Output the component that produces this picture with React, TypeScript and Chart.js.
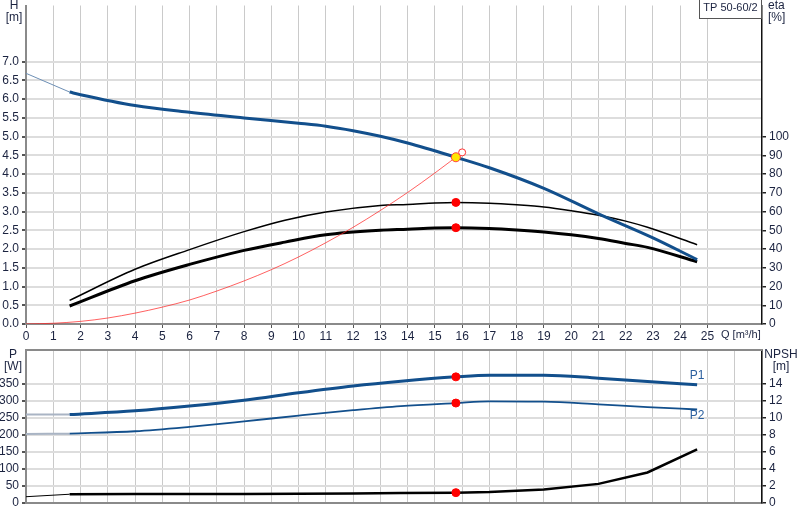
import React, { useEffect, useRef } from 'react';
import { Chart, registerables } from 'chart.js';

Chart.register(...registerables);

const FONT = '"Liberation Sans", Arial, sans-serif';
const TEXT = '#1b2340';
const BLUE = '#124f8c';

// ---- top panel: head and efficiency ----
const hExtQ = [0, 1.6];
const hExtH = [6.69, 6.19];
const hQ = [1.6, 2, 4, 6, 8, 10, 11, 12, 13, 14, 15.77, 17, 19, 21, 23, 24.62];
const hH = [6.19, 6.12, 5.83, 5.65, 5.5, 5.36, 5.28, 5.16, 5.01, 4.83, 4.45, 4.17, 3.62, 2.94, 2.3, 1.72];

const sysQ = [0, 1, 2, 3, 4, 5, 6, 7, 8, 9, 10, 11, 12, 13, 14, 15, 15.77];
const sysH = [0, 0.02, 0.07, 0.16, 0.29, 0.45, 0.64, 0.88, 1.15, 1.45, 1.79, 2.17, 2.58, 3.03, 3.51, 4.03, 4.45];

const etaQ = [1.6, 4, 6, 8, 9.5, 11, 13, 14, 15, 15.77, 17, 18, 19, 20, 21, 22, 22.8, 24.62];
const etaPump = [12.6, 29.2, 39.7, 49.3, 55.4, 59.8, 63.3, 63.8, 64.6, 64.9, 64.5, 63.6, 62.4, 60.4, 58.0, 54.9, 51.6, 42.3];
const etaTotal = [9.6, 23.1, 31.8, 39.3, 43.7, 47.6, 50.0, 50.6, 51.3, 51.4, 51.0, 50.2, 49.1, 47.6, 45.6, 43.0, 40.9, 33.2];

const dutyQ = 15.77;
const dutyH = 4.45;
const dutyEta = [64.9, 51.4];
const reqQ = 16.0;
const reqH = 4.58;

// ---- bottom panel: power and NPSH ----
const pExtQ = [0, 1.6];
const p1Ext = [260, 260];
const p2Ext = [203, 204];
const pQ = [1.6, 4, 6, 8, 10, 12, 13.75, 15.77, 17, 19, 21, 22.8, 24.62];
const p1 = [260, 271, 285, 302, 324, 344, 358, 371, 376, 376, 367, 357, 348];
const p2 = [204, 211, 224, 240, 257, 273, 285, 294, 299, 298, 290, 282, 275];

const npshExtQ = [0, 1.6];
const npshExt = [0.74, 1.03];
const npshQ = [1.6, 4, 8, 10, 12, 13.75, 15.77, 17, 19, 21, 22.8, 24.62];
const npsh = [1.03, 1.07, 1.07, 1.08, 1.13, 1.17, 1.22, 1.3, 1.58, 2.25, 3.59, 6.31];

const dutyP = [371, 294];
const dutyNpsh = 1.22;

const pts = (xs: number[], ys: number[]) => xs.map((x, i) => ({ x, y: ys[i] }));

const line = (data: any, color: string, width: number, axis: string, extra: any = {}) => ({
  data,
  borderColor: color,
  borderWidth: width,
  pointRadius: 0,
  yAxisID: axis,
  cubicInterpolationMode: 'monotone',
  fill: false,
  ...extra,
});

const dots = (data: any, axis: string, bg: string, border: string, r: number) => ({
  data,
  showLine: false,
  pointRadius: r,
  pointBackgroundColor: bg,
  pointBorderColor: border,
  pointBorderWidth: 1,
  yAxisID: axis,
});

const tickFont = { family: FONT, size: 12 };
const hide = 'rgba(0,0,0,0)';

const App: React.FC = () => {
  const topRef = useRef<HTMLCanvasElement>(null);
  const botRef = useRef<HTMLCanvasElement>(null);

  useEffect(() => {
    if (!topRef.current || !botRef.current) return;

    const topText = {
      id: 'topText',
      afterDraw(chart: any) {
        const { ctx, chartArea } = chart;
        ctx.save();
        ctx.font = `12px ${FONT}`;
        ctx.fillStyle = TEXT;
        ctx.textBaseline = 'middle';
        ctx.textAlign = 'center';
        ctx.fillText('H', 14, 6);
        ctx.fillText('[m]', 14, 18);
        ctx.textAlign = 'left';
        ctx.fillText('eta', chartArea.right + 6, 6);
        ctx.fillText('[%]', chartArea.right + 6, 18);
        ctx.font = `11px ${FONT}`;
        ctx.fillText('Q [m³/h]', 721, chartArea.bottom + 11);
        // type box
        const title = 'TP 50-60/2';
        const w = Math.ceil(ctx.measureText(title).width) + 7;
        const bx = Math.round(chartArea.right - 1 - w) + 0.5;
        ctx.fillStyle = '#fff';
        ctx.fillRect(bx, -1, w, 20);
        ctx.strokeStyle = '#555';
        ctx.lineWidth = 1;
        ctx.strokeRect(bx, -1.5, w, 20);
        ctx.fillStyle = TEXT;
        ctx.textAlign = 'center';
        ctx.fillText(title, bx + w / 2, 8);
        ctx.restore();
      },
    };

    const botText = {
      id: 'botText',
      afterDraw(chart: any) {
        const { ctx, chartArea, scales } = chart;
        ctx.save();
        ctx.strokeStyle = '#8a8a8a';
        ctx.lineWidth = 2;
        ctx.beginPath();
        ctx.moveTo(chartArea.left, chartArea.top);
        ctx.lineTo(chartArea.right, chartArea.top);
        ctx.stroke();
        ctx.font = `12px ${FONT}`;
        ctx.fillStyle = TEXT;
        ctx.textBaseline = 'middle';
        ctx.textAlign = 'center';
        ctx.fillText('P', 13, chartArea.top + 5);
        ctx.fillText('[W]', 13, chartArea.top + 17);
        ctx.fillText('NPSH', chartArea.right + 19, chartArea.top + 5);
        ctx.fillText('[m]', chartArea.right + 19, chartArea.top + 17);
        // curve names
        const n = pQ.length - 1;
        const xe = scales.x.getPixelForValue(pQ[n]);
        ctx.fillStyle = '#2b5f9e';
        ctx.fillText('P1', xe, scales.p.getPixelForValue(p1[n]) - 9);
        ctx.fillText('P2', xe, scales.p.getPixelForValue(p2[n]) + 6);
        ctx.restore();
      },
    };

    const xTop = {
      type: 'linear',
      min: 0,
      max: 27,
      afterFit: (s: any) => { s.height = 16; s.paddingLeft = 0; s.paddingRight = 0; },
      ticks: {
        stepSize: 1,
        autoSkip: false,
        maxRotation: 0,
        padding: 1,
        color: TEXT,
        font: tickFont,
        callback: (v: any) => (v <= 25 ? String(v) : null),
      },
      grid: { color: '#cacaca', lineWidth: 1, tickLength: 4, tickColor: '#555' },
      border: { color: '#8a8a8a', width: 2 },
    };

    const yLeft = (max: number, step: number, lastLabel: number, lastTick: number, fmt: (v: number) => string) => ({
      type: 'linear',
      position: 'left',
      min: 0,
      max,
      afterFit: (s: any) => { s.width = 26; s.paddingTop = 0; s.paddingBottom = 0; },
      ticks: {
        stepSize: step,
        autoSkip: false,
        padding: 3,
        color: TEXT,
        font: tickFont,
        callback: (v: any) => (v <= lastLabel + 1e-9 ? fmt(v) : null),
      },
      grid: {
        color: '#dddddd',
        lineWidth: 2,
        tickLength: 4,
        tickColor: (c: any) => (c.tick && c.tick.value <= lastTick + 1e-9 ? '#555' : hide),
      },
      border: { color: '#8a8a8a', width: 2 },
    });

    const yRight = (max: number, step: number, lastLabel: number, lastTick: number) => ({
      type: 'linear',
      position: 'right',
      min: 0,
      max,
      afterFit: (s: any) => { s.width = 38; s.paddingTop = 0; s.paddingBottom = 0; },
      ticks: {
        stepSize: step,
        autoSkip: false,
        padding: 3,
        color: TEXT,
        font: tickFont,
        callback: (v: any) => (v <= lastLabel + 1e-9 ? String(v) : null),
      },
      grid: {
        drawOnChartArea: false,
        lineWidth: 1.5,
        tickLength: 4,
        tickColor: (c: any) => (c.tick && c.tick.value <= lastTick + 1e-9 ? '#222' : hide),
      },
      border: { color: '#111', width: 1.5 },
    });

    const top = new Chart(topRef.current, {
      type: 'line',
      data: {
        datasets: [
          dots([{ x: reqQ, y: reqH }], 'h', '#ffffff', '#ff3030', 3.5),
          dots([{ x: dutyQ, y: dutyH }], 'h', '#ffe600', '#ff4040', 4.5),
          dots(dutyEta.map((e) => ({ x: dutyQ, y: e })), 'eta', '#ff0000', '#ff0000', 4),
          line(pts(hQ, hH), BLUE, 3, 'h'),
          line(pts(hExtQ, hExtH), '#6d8fb5', 1, 'h'),
          line(pts(sysQ, sysH), 'rgba(255,30,30,0.7)', 1, 'h'),
          line(pts(etaQ, etaTotal), '#000', 3, 'eta'),
          line(pts(etaQ, etaPump), '#000', 1.5, 'eta'),
        ] as any,
      },
      options: {
        responsive: false,
        animation: false,
        devicePixelRatio: 1,
        layout: { padding: 0 },
        plugins: { legend: { display: false }, tooltip: { enabled: false } },
        scales: {
          x: xTop,
          h: yLeft(8.5, 0.5, 7, 7, (v) => v.toFixed(1)),
          eta: yRight(170, 10, 100, 100),
        } as any,
      },
      plugins: [topText],
    });

    const bottom = new Chart(botRef.current, {
      type: 'line',
      data: {
        datasets: [
          dots(dutyP.map((p) => ({ x: dutyQ, y: p })), 'p', '#ff0000', '#ff0000', 4),
          dots([{ x: dutyQ, y: dutyNpsh }], 'n', '#ff0000', '#ff0000', 4),
          line(pts(pQ, p1), BLUE, 3, 'p'),
          line(pts(pQ, p2), BLUE, 1.8, 'p'),
          line(pts(pExtQ, p1Ext), '#a9b4c4', 2, 'p'),
          line(pts(pExtQ, p2Ext), '#a9b4c4', 2, 'p'),
          line(pts(npshQ, npsh), '#000', 2.5, 'n', { cubicInterpolationMode: 'default', tension: 0 }),
          line(pts(npshExtQ, npshExt), '#000', 1, 'n'),
        ] as any,
      },
      options: {
        responsive: false,
        animation: false,
        devicePixelRatio: 1,
        layout: { padding: { top: 10, left: 0, right: 0, bottom: 0 } },
        plugins: { legend: { display: false }, tooltip: { enabled: false } },
        scales: {
          x: {
            type: 'linear',
            min: 0,
            max: 27,
            afterFit: (s: any) => { s.height = 17; s.paddingLeft = 0; s.paddingRight = 0; },
            ticks: { stepSize: 1, autoSkip: false, display: false },
            grid: { color: '#cacaca', lineWidth: 1, drawTicks: false },
            border: { color: '#8a8a8a', width: 2 },
          },
          p: yLeft(450, 50, 350, 400, (v) => String(v)),
          n: yRight(18, 2, 14, 16),
        } as any,
      },
      plugins: [botText],
    });

    return () => {
      top.destroy();
      bottom.destroy();
    };
  }, []);

  return (
    <div style={{ position: 'absolute', left: 0, top: 0, width: 800, height: 520, background: '#fff' }}>
      <canvas ref={topRef} width={800} height={340} style={{ display: 'block' }} />
      <canvas ref={botRef} width={800} height={180} style={{ display: 'block' }} />
    </div>
  );
};

export default App;
